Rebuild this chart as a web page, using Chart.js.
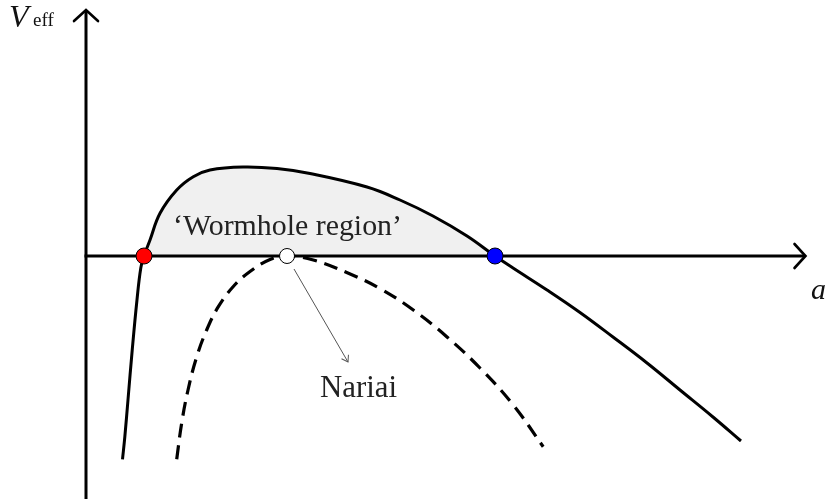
<!DOCTYPE html>
<html>
<head>
<meta charset="utf-8">
<script src="https://cdn.jsdelivr.net/npm/chart.js@4"></script>
<style>
  html, body { margin: 0; padding: 0; background: #ffffff; }
  #wrap { width: 827px; height: 499px; }
</style>
</head>
<body>
<div id="wrap"><canvas id="c" width="827" height="499"></canvas></div>
<script>
// ---- data (a, V_eff) ----
const solidA = [0.507, 0.539, 0.583, 0.642, 0.708, 0.761, 0.806, 0.889, 1.028, 1.26, 1.49, 1.722, 2.181, 2.653, 3.111, 3.903, 4.361, 4.819, 5.292, 5.681, 5.931, 6.403, 6.861, 7.319, 7.792, 8.25, 8.708, 9.097];
const solidV = [-2.033, -1.81, -1.44, -0.94, -0.44, -0.12, 0, 0.16, 0.427, 0.66, 0.793, 0.86, 0.89, 0.875, 0.825, 0.69, 0.56, 0.40, 0.20, 0, -0.12, -0.34, -0.565, -0.81, -1.07, -1.34, -1.61, -1.85];

const dashedA = [1.26, 1.329, 1.417, 1.538, 1.676, 1.838, 2.046, 2.278, 2.556, 2.792, 3.157, 3.621, 4.083, 4.546, 5.01, 5.472, 5.935, 6.35];
const dashedV = [-2.033, -1.67, -1.34, -1.007, -0.74, -0.507, -0.305, -0.155, -0.035, 0, -0.04, -0.165, -0.325, -0.54, -0.807, -1.12, -1.49, -1.907];

const markA = [0.806, 2.792, 5.681];
const markV = [0, 0, 0];
const markNames = ['inner', 'Nariai', 'outer'];

const axisLabelY = 'V';
const axisLabelYSub = 'eff';
const axisLabelX = 'a';
const regionLabel = '\u2018Wormhole region\u2019';
const nariaiLabel = 'Nariai';

const xMin = 0, xMax = 10;
const yMin = -2.43, yMax = 2.41;

const pts = (xs, ys) => xs.map((x, i) => ({ x: x, y: ys[i] }));

function arrowHead(ctx, tx, ty, angle, len, half) {
  ctx.save();
  ctx.translate(tx, ty);
  ctx.rotate(angle);
  ctx.beginPath();
  ctx.moveTo(-len, -half);
  ctx.quadraticCurveTo(-len * 0.3, -half * 0.3, 0, 0);
  ctx.quadraticCurveTo(-len * 0.3, half * 0.3, -len, half);
  ctx.stroke();
  ctx.restore();
}

const decor = {
  id: 'decor',
  beforeDatasetsDraw(chart) {
    const ctx = chart.ctx;
    const xs = chart.scales.x, ys = chart.scales.y;
    const x0 = xs.getPixelForValue(0);
    const y0 = ys.getPixelForValue(0);
    ctx.save();
    ctx.strokeStyle = '#000';
    ctx.lineWidth = 3;
    ctx.lineCap = 'butt';
    // y axis
    ctx.beginPath();
    ctx.moveTo(x0, chart.height);
    ctx.lineTo(x0, 11);
    ctx.stroke();
    // x axis
    ctx.beginPath();
    ctx.moveTo(x0 - 1.5, y0);
    ctx.lineTo(804, y0);
    ctx.stroke();
    ctx.lineWidth = 2.6;
    ctx.lineCap = 'round';
    arrowHead(ctx, 805.5, y0, 0, 11, 12);
    arrowHead(ctx, x0, 10, -Math.PI / 2, 11, 12);
    ctx.restore();
  },
  afterDatasetsDraw(chart) {
    const ctx = chart.ctx;
    ctx.save();
    ctx.fillStyle = '#111';
    ctx.textBaseline = 'alphabetic';
    // V_eff
    ctx.font = 'italic 32px "Liberation Serif"';
    ctx.fillText(axisLabelY, 9, 27);
    ctx.font = '19px "Liberation Serif"';
    ctx.fillText(axisLabelYSub, 33, 26);
    // a
    ctx.font = 'italic 30px "Liberation Serif"';
    ctx.fillText(axisLabelX, 811, 299);
    // region label, fitted to width
    ctx.fillStyle = '#222';
    let fs = 30;
    ctx.font = fs + 'px "Liberation Serif"';
    fs = fs * 229 / ctx.measureText(regionLabel).width;
    ctx.font = fs.toFixed(2) + 'px "Liberation Serif"';
    ctx.fillText(regionLabel, 173, 235);
    fs = 30;
    ctx.font = fs + 'px "Liberation Serif"';
    fs = fs * 77 / ctx.measureText(nariaiLabel).width;
    ctx.font = fs.toFixed(2) + 'px "Liberation Serif"';
    ctx.fillText(nariaiLabel, 320, 397);
    // pointer arrow to Nariai
    ctx.strokeStyle = '#555';
    ctx.lineWidth = 1;
    ctx.beginPath();
    ctx.moveTo(294, 269);
    ctx.lineTo(348, 362);
    ctx.stroke();
    const ang = Math.atan2(362 - 269, 348 - 294);
    arrowHead(ctx, 348, 362, ang, 6, 4);
    ctx.restore();
  }
};

new Chart(document.getElementById('c'), {
  type: 'scatter',
  data: {
    datasets: [
      {
        label: 'markers',
        data: pts(markA, markV),
        showLine: false,
        pointRadius: [8, 7.5, 8],
        pointBackgroundColor: ['#ff0000', '#ffffff', '#0000ff'],
        pointBorderColor: '#000',
        pointBorderWidth: 1,
        order: 0
      },
      {
        label: 'V_eff',
        data: pts(solidA, solidV),
        showLine: true,
        borderColor: '#000',
        borderWidth: 3,
        pointRadius: 0,
        tension: 0.4,
        fill: { target: 'origin', above: '#f0f0f0', below: 'rgba(0,0,0,0)' },
        order: 1
      },
      {
        label: 'Nariai',
        data: pts(dashedA, dashedV),
        showLine: true,
        borderColor: '#000',
        borderWidth: 3.2,
        borderDash: [14, 8],
        pointRadius: 0,
        tension: 0.4,
        fill: false,
        order: 2
      }
    ]
  },
  options: {
    responsive: false,
    devicePixelRatio: 1,
    animation: false,
    layout: { autoPadding: false, padding: { left: 86, right: 21, top: 15, bottom: 0 } },
    scales: {
      x: { type: 'linear', min: xMin, max: xMax, display: false },
      y: { type: 'linear', min: yMin, max: yMax, display: false }
    },
    plugins: {
      legend: { display: false },
      tooltip: { enabled: false },
      filler: { drawTime: 'beforeDraw' }
    },
    events: []
  },
  plugins: [decor]
});
</script>
</body>
</html>
